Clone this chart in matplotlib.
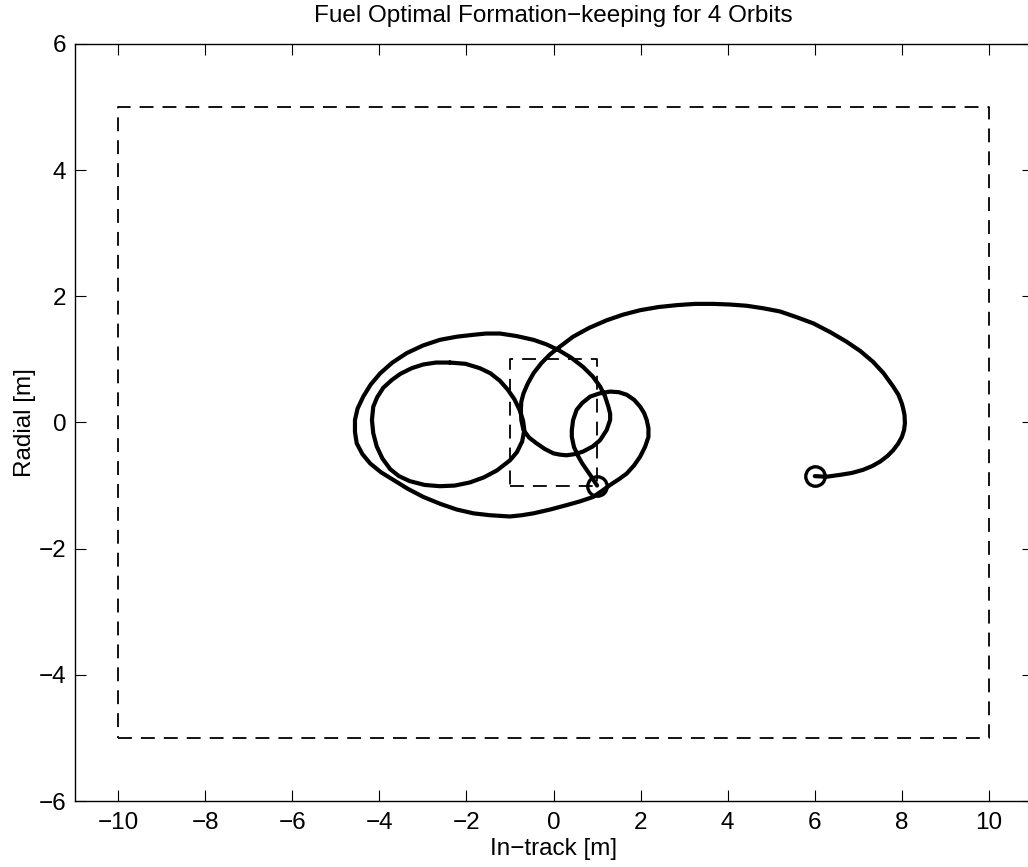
import matplotlib
matplotlib.use("Agg")
import matplotlib.pyplot as plt

plt.rcParams['font.family'] = ['Liberation Sans', 'DejaVu Sans']
plt.rcParams['lines.scale_dashes'] = False

# main trajectory, from the start marker to the end marker
path_x = [6.00, 6.27, 6.58, 6.85, 7.11, 7.32, 7.50, 7.67, 7.80, 7.91, 8.00, 8.05, 8.07,
          8.06, 8.03, 8.00, 7.92, 7.80, 7.58, 7.34, 7.05, 6.73, 6.36, 5.97, 5.58, 5.20,
          4.82, 4.44, 4.05, 3.67, 3.25, 2.83, 2.41, 1.99, 1.60, 1.22, 0.82, 0.45, 0.18,
          -0.08, -0.28, -0.46, -0.59, -0.69, -0.74, -0.75, -0.74, -0.69, -0.56, -0.39,
          -0.20, 0.00, 0.15, 0.30, 0.50, 0.68, 0.90, 1.07, 1.22, 1.30, 1.30, 1.26, 1.18,
          1.07, 0.90, 0.68, 0.40, 0.11, -0.17, -0.46, -0.85, -1.23, -1.55, -1.84, -2.22,
          -2.61, -3.00, -3.37, -3.70, -3.98, -4.20, -4.37, -4.50, -4.56, -4.56, -4.52,
          -4.39, -4.21, -3.96, -3.68, -3.35, -2.99, -2.60, -2.22, -1.84, -1.46, -1.00,
          -0.73, -0.46, -0.08, 0.30, 0.61, 0.91, 1.10, 1.30, 1.50, 1.68, 1.85, 1.99, 2.10,
          2.18, 2.18, 2.14, 2.08, 1.99, 1.85, 1.68, 1.50, 1.30, 1.05, 0.84, 0.66, 0.53,
          0.45, 0.42, 0.42, 0.47, 0.57, 0.66, 0.76, 0.88, 1.00]
path_y = [-0.85, -0.86, -0.83, -0.80, -0.75, -0.69, -0.62, -0.53, -0.44, -0.34, -0.23, -0.12, -0.01,
          0.12, 0.22, 0.30, 0.44, 0.57, 0.78, 0.96, 1.13, 1.28, 1.43, 1.57, 1.67, 1.76,
          1.81, 1.85, 1.87, 1.88, 1.88, 1.86, 1.83, 1.78, 1.71, 1.62, 1.50, 1.36, 1.22,
          1.08, 0.94, 0.78, 0.62, 0.46, 0.33, 0.20, 0.04, -0.12, -0.24, -0.33,
          -0.42, -0.49, -0.51, -0.52, -0.50, -0.46, -0.38, -0.28, -0.12, 0.04, 0.14, 0.25, 0.42,
          0.57, 0.73, 0.88, 1.03, 1.15, 1.24, 1.31, 1.37, 1.41, 1.41, 1.39, 1.36,
          1.31, 1.22, 1.10, 0.95, 0.78, 0.60, 0.41, 0.22, 0.04, -0.15, -0.33,
          -0.50, -0.65, -0.79, -0.91, -1.05, -1.18, -1.29, -1.38, -1.44, -1.47, -1.49,
          -1.47, -1.44, -1.38, -1.31, -1.25, -1.18, -1.09, -0.99, -0.90, -0.81, -0.68, -0.54, -0.39,
          -0.23, -0.09, 0.04, 0.15, 0.25, 0.36, 0.44, 0.48, 0.49, 0.46, 0.41, 0.31, 0.20,
          0.04, -0.12, -0.23, -0.39, -0.54, -0.65, -0.75, -0.87, -1.00]

# closed inner loop
loop_x = [-2.38, -2.02, -1.69, -1.45, -1.23, -1.05, -0.90, -0.78, -0.70, -0.67, -0.72,
          -0.84, -1.00, -1.30, -1.60, -1.92, -2.27, -2.61, -2.96, -3.30, -3.55, -3.75,
          -3.93, -4.06, -4.14, -4.17, -4.14, -4.05, -3.91, -3.72, -3.52, -3.26, -2.99,
          -2.70, -2.38]
loop_y = [0.95, 0.93, 0.86, 0.78, 0.66, 0.52, 0.37, 0.20, 0.03, -0.12, -0.30,
          -0.47, -0.60, -0.76, -0.87, -0.95, -1.00, -1.01, -0.99, -0.93, -0.85, -0.74,
          -0.57, -0.38, -0.17, 0.04, 0.25, 0.40, 0.55, 0.67, 0.77, 0.86, 0.92,
          0.95, 0.95]

# start / end markers
mark_x = [6.0, 1.0]
mark_y = [-0.85, -1.0]

# dashed boxes
outer_x = [-10, 10, 10, -10, -10]
outer_y = [-5, -5, 5, 5, -5]
inner_x = [-1, 1, 1, -1, -1]
inner_y = [-1, -1, 1, 1, -1]

fig = plt.figure(figsize=(10.28, 8.67), dpi=100)
ax = fig.add_axes([0.0725, 0.0761, 0.9319, 0.8732])

ax.plot(outer_x, outer_y, color='k', lw=1.3, dashes=(10, 6.5))
ax.plot(inner_x, inner_y, color='k', lw=1.3, dashes=(10, 6.5))
ax.plot(loop_x, loop_y, color='k', lw=3, solid_capstyle='round', solid_joinstyle='round')
ax.plot(path_x, path_y, color='k', lw=3, solid_capstyle='round', solid_joinstyle='round')
ax.plot(mark_x, mark_y, 'o', ms=14, mfc='none', mec='k', mew=2.4)

ax.set_xlim(-11, 11)
ax.set_ylim(-6, 6)
ax.set_xticks(range(-10, 11, 2))
ax.set_yticks(range(-6, 7, 2))
ax.tick_params(direction='in', length=8, width=0.8, top=True, right=True,
               labelsize=17.5)
ax.tick_params(axis='x', pad=8)
ax.tick_params(axis='y', pad=6)
for s in ax.spines.values():
    s.set_linewidth(1.0)

ax.set_title('Fuel Optimal Formation\u2212keeping for 4 Orbits', fontsize=17.5, pad=16)
ax.set_xlabel('In\u2212track [m]', fontsize=17.5, labelpad=3)
ax.set_ylabel('Radial [m]', fontsize=17.5, labelpad=2)

fig.savefig('out.png', dpi=100)
